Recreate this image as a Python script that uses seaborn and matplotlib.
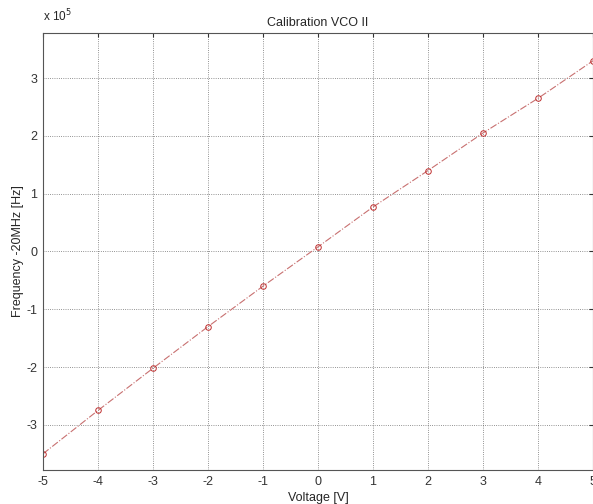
import numpy as np
import pandas as pd
import matplotlib
matplotlib.use('Agg')
import matplotlib.pyplot as plt
import seaborn as sns

# dados
voltage = [-5, -4, -3, -2, -1, 0, 1, 2, 3, 4, 5]
freq_offset = [-3.50e5, -2.75e5, -2.02e5, -1.30e5, -0.60e5, 0.08e5,
               0.77e5, 1.40e5, 2.05e5, 2.65e5, 3.30e5]
x_ticks = [-5, -4, -3, -2, -1, 0, 1, 2, 3, 4, 5]
y_ticks = [-3, -2, -1, 0, 1, 2, 3]

df = pd.DataFrame({'voltage': voltage, 'freq': freq_offset})

sns.set_style('white')
plt.rcParams['font.family'] = ['Liberation Sans', 'DejaVu Sans']

fig = plt.figure(figsize=(5.93, 5.04), dpi=100)
ax = fig.add_axes([0.0725, 0.0675, 0.9275, 0.867])

sns.lineplot(data=df, x='voltage', y='freq', ax=ax, color='#c87070',
             linestyle='-.', linewidth=0.8, marker='o', markersize=4,
             markerfacecolor='none', markeredgecolor='#c03030',
             markeredgewidth=0.7)

ax.set_xlim(-5, 5)
ax.set_ylim(-3.78e5, 3.78e5)
ax.set_xticks(x_ticks)
ax.set_xticklabels([str(t) for t in x_ticks])
ax.set_yticks([t * 1e5 for t in y_ticks])
ax.set_yticklabels([str(t) for t in y_ticks])
ax.grid(True, color='#333333', linestyle=':', linewidth=0.6, alpha=0.7)
ax.tick_params(axis='both', labelsize=9, colors='#333333', length=3,
               direction='in', pad=4, top=True, right=True)
for s in ax.spines.values():
    s.set_color('#555555')
    s.set_linewidth(0.8)

ax.set_title('Calibration VCO II', fontsize=9, pad=5)
ax.set_xlabel('Voltage [V]', fontsize=9, labelpad=3)
ax.set_ylabel('Frequency -20MHz [Hz]', fontsize=9, labelpad=2)
ax.text(0.0, 1.02, r'x 10$^5$', transform=ax.transAxes, fontsize=8.5,
        ha='left', va='bottom')

fig.savefig('out.png', dpi=100)
